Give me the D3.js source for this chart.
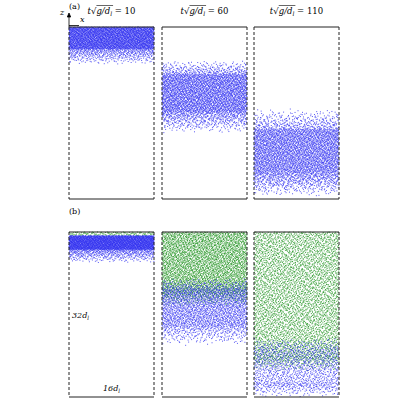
<!DOCTYPE html>
<html><head><meta charset="utf-8">
<script src="https://cdn.jsdelivr.net/npm/d3@7"></script>
<style>body{margin:0;background:#fff}</style>
</head><body><div id="chart"></div>
<script>
// panel layout in data units: x in [0,16], z in [0,32]
const times = [10, 60, 110];
const panelLeft = [69, 162, 254];
const panelWidth = 85;
const rows = [{label: "(a)", top: 27, bottom: 199}, {label: "(b)", top: 232, bottom: 397}];

// particle bands: [row, panel, species, zTopTail, zCoreTop, zCoreBottom, zBottomTail, nCore, nTail]
const bands = [
  [0, 0, "blue", 32, 32, 27.9, 25.0, 3000, 500],
  [0, 1, "blue", 25.8, 23.2, 16.2, 12.3, 2800, 900],
  [0, 2, "blue", 16.8, 13.0, 5.0, 0.5, 2800, 1100],
  [1, 0, "green", 32, 32, 31.3, 31.3, 120, 0],
  [1, 0, "blue", 31.3, 31.3, 28.6, 26.0, 2600, 500],
  [1, 1, "green", 32, 32, 20.2, 17.5, 3000, 300],
  [1, 1, "blue", 23.0, 21.0, 13.6, 10.0, 1800, 500],
  [1, 2, "green", 32, 32, 8.0, 5.0, 3600, 300],
  [1, 2, "blue", 11.5, 9.0, 2.8, 0, 800, 450]
];
const colors = {blue: "#2f2ff0", green: "#178f17"};

const svg = d3.select("#chart").append("svg").attr("width", 400).attr("height", 400);

// deterministic low-discrepancy sequence
function halton(i, b) { let f = 1, r = 0; while (i > 0) { f /= b; r += f * (i % b); i = Math.floor(i / b); } return r; }

let seed = 1;
bands.forEach(([ri, pi, sp, zt, zc1, zc2, zb, nCore, nTail]) => {
  const row = rows[ri];
  const x = d3.scaleLinear().domain([0, 16]).range([panelLeft[pi], panelLeft[pi] + panelWidth]);
  const z = d3.scaleLinear().domain([0, 32]).range([row.bottom, row.top]);
  const pts = [];
  for (let k = 0; k < nCore; k++, seed++) pts.push([16 * halton(seed, 2), zc1 - (zc1 - zc2) * halton(seed, 3)]);
  for (let k = 0; k < nTail; k++, seed++) {
    const u = halton(seed, 3), d = 1 - Math.sqrt(1 - u);
    const below = halton(seed, 5) < 0.65 || zt <= zc1;
    pts.push([16 * halton(seed, 2), below ? zc2 - (zc2 - zb) * d : zc1 + (zt - zc1) * d]);
  }
  svg.append("g").selectAll("rect").data(pts).join("rect")
    .attr("x", d => x(d[0]) - 0.5).attr("y", d => z(d[1]) - 0.5)
    .attr("width", 1).attr("height", 1)
    .attr("fill", colors[sp]).attr("opacity", 0.8);
});

// frames
rows.forEach(row => {
  panelLeft.forEach(l => {
    const g = svg.append("g").attr("stroke", "#222").attr("fill", "none");
    g.append("line").attr("x1", l).attr("x2", l + panelWidth).attr("y1", row.top).attr("y2", row.top).attr("stroke-width", 1);
    g.append("line").attr("x1", l).attr("x2", l + panelWidth).attr("y1", row.bottom).attr("y2", row.bottom).attr("stroke-width", 1);
    [l, l + panelWidth].forEach(xx => g.append("line").attr("x1", xx).attr("x2", xx)
      .attr("y1", row.top).attr("y2", row.bottom).attr("stroke-dasharray", "3,2").attr("stroke-width", 1));
  });
  svg.append("text").attr("x", 69).attr("y", row.top - 18).attr("font-family", "DejaVu Serif")
    .attr("font-size", 8).text(row.label);
});

// titles
const font = "DejaVu Serif";
times.forEach((t, i) => {
  const cx = panelLeft[i] + panelWidth / 2;
  const g = svg.append("g").attr("font-family", font).attr("font-size", 8.5);
  const txt = g.append("text").attr("x", cx).attr("y", 14).attr("text-anchor", "middle");
  txt.append("tspan").attr("font-style", "italic").text("t");
  txt.append("tspan").text("\u221A");
  txt.append("tspan").attr("font-style", "italic").text("g/d");
  txt.append("tspan").attr("font-style", "italic").attr("font-size", 6).attr("dy", 2).text("l");
  txt.append("tspan").attr("dy", -2).text(" = " + t);
  const n = txt.node();
  const s = n.getStartPositionOfChar(2).x, e = n.getEndPositionOfChar(5).x;
  g.append("line").attr("x1", s).attr("x2", e + 1).attr("y1", 5.5).attr("y2", 5.5).attr("stroke", "#000").attr("stroke-width", 0.6);
});

// axis indicator
const ax = svg.append("g").attr("stroke", "#000").attr("stroke-width", 0.8);
ax.append("line").attr("x1", 69).attr("x2", 69).attr("y1", 27).attr("y2", 15);
ax.append("path").attr("d", "M67.3,17 L69,13 L70.7,17 Z").attr("fill", "#000");
ax.append("line").attr("x1", 69).attr("x2", 79).attr("y1", 25.5).attr("y2", 25.5);
svg.append("text").attr("x", 60).attr("y", 15).attr("font-family", font).attr("font-style", "italic").attr("font-size", 8).text("z");
svg.append("text").attr("x", 80).attr("y", 22).attr("font-family", font).attr("font-style", "italic").attr("font-size", 8).text("x");

// size labels
const lab = (x, y, s) => {
  const t = svg.append("text").attr("x", x).attr("y", y).attr("font-family", font).attr("font-style", "italic").attr("font-size", 8);
  t.append("tspan").text(s); t.append("tspan").attr("font-size", 5.5).attr("dy", 2).text("l");
};
lab(72, 318, "32d");
lab(103, 391, "16d");
</script></body></html>
